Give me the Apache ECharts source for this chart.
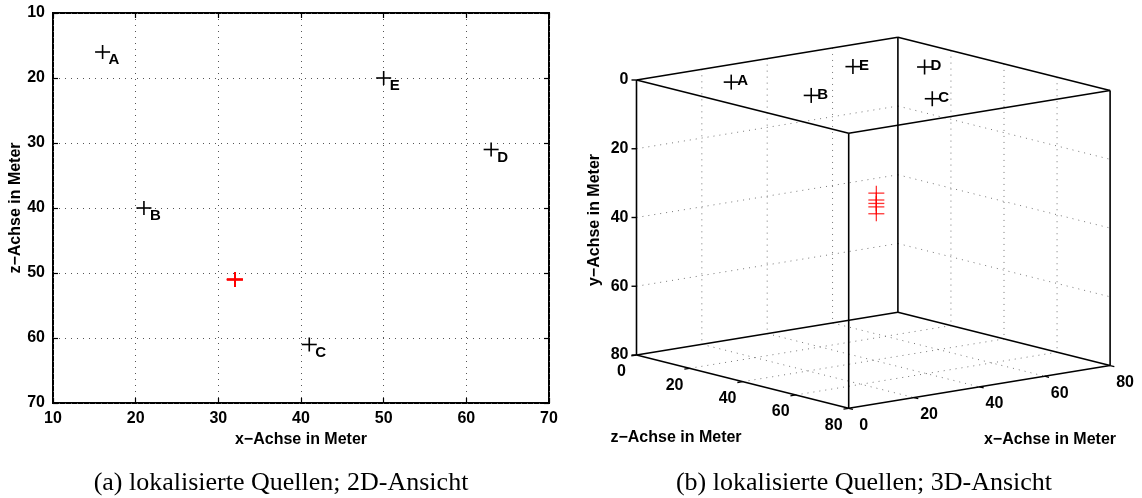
<!DOCTYPE html>
<html>
<head>
<meta charset="utf-8">
<script src="https://cdn.jsdelivr.net/npm/echarts@6/dist/echarts.min.js"></script>
<style>html,body{margin:0;padding:0;background:#fff;}#c{width:1142px;height:498px;}</style>
</head>
<body>
<div id="c"></div>
<script>
// ---- data ----
const srcNames = ['A', 'B', 'C', 'D', 'E'];
const srcX = [16, 21, 41, 63, 50];
const srcZ = [16, 40, 61, 31, 20];
const srcY = [0, 0, 0, 0, 0];
const estX = [32, 32, 32, 32, 32];
const estZ = [51, 51, 51, 51, 51];
const estY = [28, 30, 31, 32, 34];
const ticks2D = [10, 20, 30, 40, 50, 60, 70];
const ticks3D = [0, 20, 40, 60, 80];
const captionA = '(a) lokalisierte Quellen; 2D-Ansicht';
const captionB = '(b) lokalisierte Quellen; 3D-Ansicht';
const xTitle = 'x−Achse in Meter';
const yTitle = 'y−Achse in Meter';
const zTitle = 'z−Achse in Meter';

// ---- styling / projection ----
const SANS = '"Liberation Sans", Arial, Helvetica, sans-serif';
const SERIF = '"Liberation Serif", "Times New Roman", serif';
const TICK_FS = 16, TITLE_FS = 16, PT_FS = 15;
const lo3 = ticks3D[0], hi3 = ticks3D[ticks3D.length - 1];
const PW = 474, PH = 373;              // projection plane extent (hidden axes)
const O = [0.5, 43];
const EX = [3.2675, -0.534], EZ = [2.6525, 0.666], EY = [0, 3.4375];
function proj(x, y, z) {
  return [O[0] + x * EX[0] + z * EZ[0] + y * EY[0], O[1] + x * EX[1] + z * EZ[1] + y * EY[1]];
}

// build 3D segments from tick values
const boxSegs = [];
const corners = [];
[lo3, hi3].forEach(x => [lo3, hi3].forEach(y => [lo3, hi3].forEach(z => corners.push([x, y, z]))));
for (let i = 0; i < corners.length; i++) for (let j = i + 1; j < corners.length; j++) {
  const a = corners[i], b = corners[j];
  let d = 0; for (let k = 0; k < 3; k++) if (a[k] !== b[k]) d++;
  if (d === 1) boxSegs.push(a.concat(b));
}
const gridSegs = [];
ticks3D.slice(1, -1).forEach(t => {
  gridSegs.push([t, lo3, lo3, t, hi3, lo3]);
  gridSegs.push([lo3, t, lo3, hi3, t, lo3]);
  gridSegs.push([hi3, lo3, t, hi3, hi3, t]);
  gridSegs.push([hi3, t, lo3, hi3, t, hi3]);
  gridSegs.push([t, hi3, lo3, t, hi3, hi3]);
  gridSegs.push([lo3, hi3, t, hi3, hi3, t]);
});

function cross(p, color, w, h, lw, op) {
  return [
    {type: 'line', shape: {x1: p[0] - w / 2, y1: p[1], x2: p[0] + w / 2, y2: p[1]}, style: {stroke: color, lineWidth: lw, opacity: op}},
    {type: 'line', shape: {x1: p[0], y1: p[1] - h / 2, x2: p[0], y2: p[1] + h / 2}, style: {stroke: color, lineWidth: lw, opacity: op}}
  ];
}
function txt(x, y, text, size, align, valign) {
  return {type: 'text', x: x, y: y, style: {text: text, fontFamily: SANS, fontWeight: 'bold', fontSize: size, fill: '#000', align: align, verticalAlign: valign}};
}

const chart = echarts.init(document.getElementById('c'), null, {renderer: 'canvas'});
const axLabel = {color: '#000', fontWeight: 'bold', fontSize: TICK_FS, fontFamily: SANS};
const tickStyle = {inside: true, length: 5, lineStyle: {color: '#000', width: 1.2}};

const option = {
  animation: false,
  backgroundColor: '#fff',
  grid: [
    {left: 53, top: 13, width: 496, height: 390, show: true, borderColor: '#000', borderWidth: 2, backgroundColor: 'transparent'},
    {left: 636, top: 37, width: PW, height: PH, show: false}
  ],
  xAxis: [
    {gridIndex: 0, type: 'value', min: ticks2D[0], max: ticks2D[ticks2D.length - 1], interval: 10, position: 'bottom',
     axisLine: {show: false}, axisTick: tickStyle,
     axisLabel: Object.assign({margin: 8}, axLabel),
     splitLine: {show: true, lineStyle: {color: '#555', width: 1, type: [1, 5]}}},
    {gridIndex: 0, type: 'value', min: ticks2D[0], max: ticks2D[ticks2D.length - 1], interval: 10, position: 'top',
     axisLine: {show: false}, axisTick: tickStyle, axisLabel: {show: false}, splitLine: {show: false}},
    {gridIndex: 1, type: 'value', min: 0, max: PW, show: false}
  ],
  yAxis: [
    {gridIndex: 0, type: 'value', inverse: true, min: ticks2D[0], max: ticks2D[ticks2D.length - 1], interval: 10, position: 'left',
     axisLine: {show: false}, axisTick: tickStyle,
     axisLabel: Object.assign({margin: 8}, axLabel),
     splitLine: {show: true, lineStyle: {color: '#555', width: 1, type: [1, 5]}}},
    {gridIndex: 0, type: 'value', inverse: true, min: ticks2D[0], max: ticks2D[ticks2D.length - 1], interval: 10, position: 'right',
     axisLine: {show: false}, axisTick: tickStyle, axisLabel: {show: false}, splitLine: {show: false}},
    {gridIndex: 1, type: 'value', inverse: true, min: 0, max: PH, show: false}
  ],
  series: [
    {type: 'custom', xAxisIndex: 0, yAxisIndex: 0, data: srcX.map((x, i) => [x, srcZ[i]]),
     renderItem: (params, api) => {
       const p = api.coord([api.value(0), api.value(1)]);
       return {type: 'group', children: cross(p, '#000', 15, 14, 1.6, 1).concat([
         txt(p[0] + 6, p[1] + 8, srcNames[params.dataIndex], PT_FS, 'left', 'middle')])};
     }},
    {type: 'custom', xAxisIndex: 0, yAxisIndex: 0, data: estX.map((x, i) => [x, estZ[i]]),
     renderItem: (params, api) => {
       const p = api.coord([api.value(0), api.value(1)]);
       return {type: 'group', children: cross(p, '#ff0000', 16, 15, 1.6, 1)};
     }},
    {type: 'custom', xAxisIndex: 2, yAxisIndex: 2, data: gridSegs,
     renderItem: (params, api) => {
       const a = api.coord(proj(api.value(0), api.value(1), api.value(2)));
       const b = api.coord(proj(api.value(3), api.value(4), api.value(5)));
       return {type: 'line', shape: {x1: a[0], y1: a[1], x2: b[0], y2: b[1]}, style: {stroke: '#777', lineWidth: 1, lineDash: [1, 5]}};
     }},
    {type: 'custom', xAxisIndex: 2, yAxisIndex: 2, data: boxSegs,
     renderItem: (params, api) => {
       const a = api.coord(proj(api.value(0), api.value(1), api.value(2)));
       const b = api.coord(proj(api.value(3), api.value(4), api.value(5)));
       return {type: 'line', shape: {x1: a[0], y1: a[1], x2: b[0], y2: b[1]}, style: {stroke: '#000', lineWidth: 1.6}};
     }},
    {type: 'custom', xAxisIndex: 2, yAxisIndex: 2, data: ticks3D.map(t => [t]),
     renderItem: (params, api) => {
       const t = api.value(0);
       const p = api.coord(proj(lo3, t, lo3));
       return {type: 'group', children: [
         {type: 'line', shape: {x1: p[0] - 5, y1: p[1], x2: p[0], y2: p[1]}, style: {stroke: '#000', lineWidth: 1.4}},
         txt(p[0] - 8, p[1], String(t), TICK_FS, 'right', 'middle')]};
     }},
    {type: 'custom', xAxisIndex: 2, yAxisIndex: 2, data: ticks3D.map(t => [t]),
     renderItem: (params, api) => {
       const t = api.value(0);
       const p = api.coord(proj(lo3, hi3, t));
       const q = api.coord(proj(lo3 - 1.6, hi3, t));
       return {type: 'group', children: [
         {type: 'line', shape: {x1: p[0], y1: p[1], x2: q[0], y2: q[1]}, style: {stroke: '#000', lineWidth: 1.3}},
         txt(p[0] - 15, p[1] + 17, String(t), TICK_FS, 'center', 'middle')]};
     }},
    {type: 'custom', xAxisIndex: 2, yAxisIndex: 2, data: ticks3D.map(t => [t]),
     renderItem: (params, api) => {
       const t = api.value(0);
       const p = api.coord(proj(t, hi3, hi3));
       const q = api.coord(proj(t, hi3, hi3 + 1.6));
       return {type: 'group', children: [
         {type: 'line', shape: {x1: p[0], y1: p[1], x2: q[0], y2: q[1]}, style: {stroke: '#000', lineWidth: 1.3}},
         txt(p[0] + 15, p[1] + 17, String(t), TICK_FS, 'center', 'middle')]};
     }},
    {type: 'custom', xAxisIndex: 2, yAxisIndex: 2, data: srcX.map((x, i) => [x, srcY[i], srcZ[i]]),
     renderItem: (params, api) => {
       const p = api.coord(proj(api.value(0), api.value(1), api.value(2)));
       return {type: 'group', children: cross(p, '#000', 15, 15, 1.6, 1).concat([
         txt(p[0] + 6, p[1] - 1, srcNames[params.dataIndex], PT_FS, 'left', 'middle')])};
     }},
    {type: 'custom', xAxisIndex: 2, yAxisIndex: 2, data: estX.map((x, i) => [x, estY[i], estZ[i]]),
     renderItem: (params, api) => {
       const p = api.coord(proj(api.value(0), api.value(1), api.value(2)));
       return {type: 'group', children: cross(p, '#ff0000', 16, 15, 1.3, 0.8)};
     }}
  ],
  graphic: [
    {type: 'text', x: 301, y: 440, style: {text: xTitle, fontFamily: SANS, fontWeight: 'bold', fontSize: TITLE_FS, fill: '#000', align: 'center', verticalAlign: 'middle'}},
    {type: 'text', x: 16, y: 208, rotation: Math.PI / 2, style: {text: zTitle, fontFamily: SANS, fontWeight: 'bold', fontSize: TITLE_FS, fill: '#000', align: 'center', verticalAlign: 'middle'}},
    {type: 'text', x: 676, y: 438, style: {text: zTitle, fontFamily: SANS, fontWeight: 'bold', fontSize: TITLE_FS, fill: '#000', align: 'center', verticalAlign: 'middle'}},
    {type: 'text', x: 1050, y: 440, style: {text: xTitle, fontFamily: SANS, fontWeight: 'bold', fontSize: TITLE_FS, fill: '#000', align: 'center', verticalAlign: 'middle'}},
    {type: 'text', x: 595, y: 220, rotation: Math.PI / 2, style: {text: yTitle, fontFamily: SANS, fontWeight: 'bold', fontSize: TITLE_FS, fill: '#000', align: 'center', verticalAlign: 'middle'}},
    {type: 'text', x: 281, y: 483, style: {text: captionA, fontFamily: SERIF, fontSize: 26, fill: '#000', align: 'center', verticalAlign: 'middle'}},
    {type: 'text', x: 864, y: 483, style: {text: captionB, fontFamily: SERIF, fontSize: 26, fill: '#000', align: 'center', verticalAlign: 'middle'}}
  ]
};
chart.setOption(option);
</script>
</body>
</html>
